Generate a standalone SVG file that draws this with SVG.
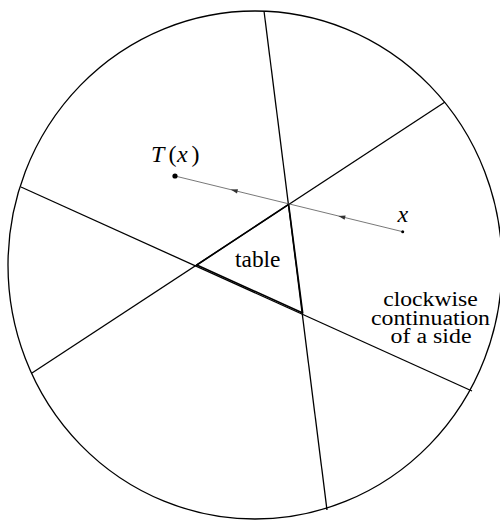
<svg xmlns="http://www.w3.org/2000/svg" width="500" height="520" viewBox="0 0 500 520">
  <style>
    .ln { stroke: #000; stroke-width: 1.3; fill: none; }
    .tri { stroke: #000; stroke-width: 1.6; fill: none; stroke-linejoin: round; }
    .orbit { stroke: #555; stroke-width: 0.8; fill: none; }
    .lbl { font-family: "Liberation Serif", "Times New Roman", serif; fill: #000; }
    .it { font-style: italic; }
  </style>
  <defs>
    <path id="ah" d="M0,0 L7,-2.2 L7,2.2 Z" fill="#333"/>
  </defs>
  <rect width="500" height="520" fill="#fff"/>
  <g id="table-boundary">
    <ellipse cx="255" cy="265" rx="247" ry="254" class="ln"/>
  </g>
  <g id="connectors">
    <line x1="264" y1="11" x2="327" y2="510" class="ln"/>
    <line x1="445" y1="102" x2="32" y2="373" class="ln"/>
    <line x1="21" y1="187" x2="472" y2="391" class="ln"/>
    <polygon points="288.6,204.3 196.8,265 302.7,313" class="tri"/>
  </g>
  <g id="orbit">
    <line x1="402.7" y1="231.7" x2="175" y2="176" class="orbit"/>
    <use href="#ah" transform="translate(230.7,189.6) rotate(13.75)"/>
    <use href="#ah" transform="translate(338.3,216) rotate(13.75)"/>
    <circle cx="175" cy="176" r="2.6" fill="#000"/>
    <circle cx="402.7" cy="231.7" r="1.5" fill="#000"/>
  </g>
  <g id="labels">
    <text class="lbl" font-size="24" y="162"><tspan class="it" x="151">T</tspan><tspan x="168.5">(</tspan><tspan class="it" x="177">x</tspan><tspan x="191.5">)</tspan></text>
    <text class="lbl it" font-size="24" x="397.5" y="222">x</text>
    <text class="lbl" font-size="23" x="235" y="266.5" textLength="45.5" lengthAdjust="spacingAndGlyphs">table</text>
    <text class="lbl" font-size="20.5" x="430.5" y="306" text-anchor="middle" textLength="94.5" lengthAdjust="spacingAndGlyphs">clockwise</text>
    <text class="lbl" font-size="20.5" x="430.5" y="324.7" text-anchor="middle" textLength="119" lengthAdjust="spacingAndGlyphs">continuation</text>
    <text class="lbl" font-size="20.5" x="431" y="343.3" text-anchor="middle" textLength="81" lengthAdjust="spacingAndGlyphs">of a side</text>
  </g>
</svg>
